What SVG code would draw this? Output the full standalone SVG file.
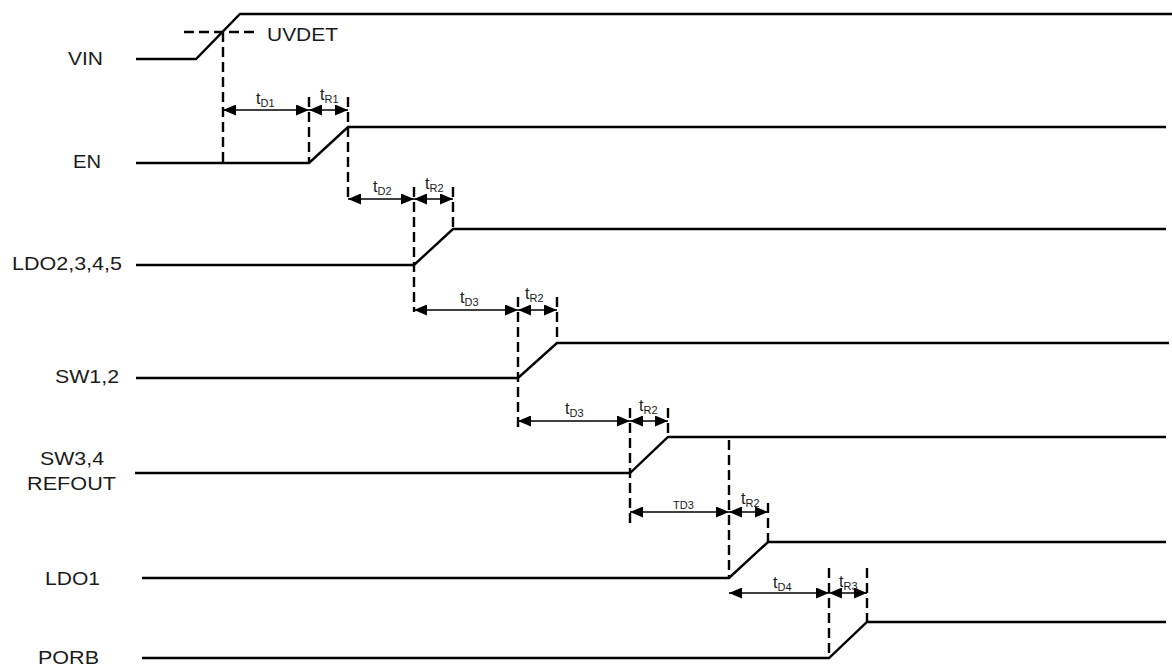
<svg xmlns="http://www.w3.org/2000/svg" width="1172" height="664" viewBox="0 0 1172 664">
<style>
.sig{fill:none;stroke:#000;stroke-width:2.4;stroke-linejoin:miter}
.dash{fill:none;stroke:#000;stroke-width:2.4;stroke-dasharray:10,5}
.arr{fill:none;stroke:#000;stroke-width:1.5}
.lbl{font-family:"Liberation Sans",Arial,sans-serif;font-size:19px;fill:#1a1a1a}
.t{font-family:"Liberation Sans",Arial,sans-serif;font-size:16px;fill:#1a1a1a}
.sub{font-size:11px}
</style>
<defs>
<marker id="ah" viewBox="0 0 13 11" refX="13" refY="5.5" markerWidth="13" markerHeight="11" orient="auto-start-reverse" markerUnits="userSpaceOnUse">
<path d="M0,0 L13,5.5 L0,11 z" fill="#000"/>
</marker>
</defs>
<rect width="1172" height="664" fill="#fff"/>

<g id="vin">
<text class="lbl" x="68" y="65" textLength="35" lengthAdjust="spacingAndGlyphs">VIN</text>
<polyline class="sig" points="136,59 196,59 240,14 1172,14"/>
<line class="dash" x1="184" y1="32" x2="256" y2="32"/>
<text class="lbl" x="267" y="41" textLength="71" lengthAdjust="spacingAndGlyphs">UVDET</text>
</g>
<g id="en">
<text class="lbl" x="73" y="168" textLength="28" lengthAdjust="spacingAndGlyphs">EN</text>
<polyline class="sig" points="136,163 309,163 348,127 1166,127"/>
</g>
<g id="ldo2345">
<text class="lbl" x="12" y="270" textLength="110" lengthAdjust="spacingAndGlyphs">LDO2,3,4,5</text>
<polyline class="sig" points="136,265 414,265 453,229 1166,229"/>
</g>
<g id="sw12">
<text class="lbl" x="55" y="383" textLength="64" lengthAdjust="spacingAndGlyphs">SW1,2</text>
<polyline class="sig" points="136,378 518,378 557,343 1169,343"/>
</g>
<g id="sw34">
<text class="lbl" x="40" y="465" textLength="64" lengthAdjust="spacingAndGlyphs">SW3,4</text>
<text class="lbl" x="27" y="490" textLength="89" lengthAdjust="spacingAndGlyphs">REFOUT</text>
<polyline class="sig" points="135,473 630,473 668,437 1166,437"/>
</g>
<g id="ldo1">
<text class="lbl" x="45" y="585" textLength="55" lengthAdjust="spacingAndGlyphs">LDO1</text>
<polyline class="sig" points="142,578 729,578 768,542 1166,542"/>
</g>
<g id="porb">
<text class="lbl" x="38" y="664" textLength="61" lengthAdjust="spacingAndGlyphs">PORB</text>
<polyline class="sig" points="142,658 829,658 867,622 1166,622"/>
</g>

<g id="connectors">
<line class="dash" x1="223" y1="32" x2="223" y2="163"/>
<line class="dash" x1="309" y1="97" x2="309" y2="163"/>
<line class="dash" x1="348" y1="97" x2="348" y2="201"/>
<line class="dash" x1="414" y1="187" x2="414" y2="312"/>
<line class="dash" x1="453" y1="187" x2="453" y2="229"/>
<line class="dash" x1="518" y1="297" x2="518" y2="428"/>
<line class="dash" x1="557" y1="297" x2="557" y2="343"/>
<line class="dash" x1="630" y1="408" x2="630" y2="523"/>
<line class="dash" x1="668" y1="408" x2="668" y2="437"/>
<line class="dash" x1="729" y1="440" x2="729" y2="578"/>
<line class="dash" x1="768" y1="503" x2="768" y2="542"/>
<line class="dash" x1="829" y1="568" x2="829" y2="658"/>
<line class="dash" x1="867" y1="568" x2="867" y2="622"/>

<line class="arr" x1="223" y1="110" x2="309" y2="110" marker-start="url(#ah)" marker-end="url(#ah)"/>
<line class="arr" x1="309" y1="110" x2="348" y2="110" marker-start="url(#ah)" marker-end="url(#ah)"/>
<line class="arr" x1="348" y1="199" x2="414" y2="199" marker-start="url(#ah)" marker-end="url(#ah)"/>
<line class="arr" x1="414" y1="199" x2="453" y2="199" marker-start="url(#ah)" marker-end="url(#ah)"/>
<line class="arr" x1="414" y1="310" x2="518" y2="310" marker-start="url(#ah)" marker-end="url(#ah)"/>
<line class="arr" x1="518" y1="310" x2="557" y2="310" marker-start="url(#ah)" marker-end="url(#ah)"/>
<line class="arr" x1="518" y1="421" x2="630" y2="421" marker-start="url(#ah)" marker-end="url(#ah)"/>
<line class="arr" x1="630" y1="421" x2="668" y2="421" marker-start="url(#ah)" marker-end="url(#ah)"/>
<line class="arr" x1="630" y1="512" x2="729" y2="512" marker-start="url(#ah)" marker-end="url(#ah)"/>
<line class="arr" x1="729" y1="512" x2="768" y2="512" marker-start="url(#ah)" marker-end="url(#ah)"/>
<line class="arr" x1="729" y1="593" x2="829" y2="593" marker-start="url(#ah)" marker-end="url(#ah)"/>
<line class="arr" x1="829" y1="593" x2="867" y2="593" marker-start="url(#ah)" marker-end="url(#ah)"/>

<text class="t" x="256" y="104">t<tspan class="sub" dy="3">D1</tspan></text>
<text class="t" x="320" y="100">t<tspan class="sub" dy="3">R1</tspan></text>
<text class="t" x="373" y="192">t<tspan class="sub" dy="3">D2</tspan></text>
<text class="t" x="425" y="189">t<tspan class="sub" dy="3">R2</tspan></text>
<text class="t" x="460" y="303">t<tspan class="sub" dy="3">D3</tspan></text>
<text class="t" x="525" y="299">t<tspan class="sub" dy="3">R2</tspan></text>
<text class="t" x="565" y="414">t<tspan class="sub" dy="3">D3</tspan></text>
<text class="t" x="639" y="411">t<tspan class="sub" dy="3">R2</tspan></text>
<text class="t" x="673" y="509" style="font-size:11px">TD3</text>
<text class="t" x="741" y="504">t<tspan class="sub" dy="3">R2</tspan></text>
<text class="t" x="773" y="588">t<tspan class="sub" dy="3">D4</tspan></text>
<text class="t" x="839" y="587">t<tspan class="sub" dy="3">R3</tspan></text>
</g>
</svg>
